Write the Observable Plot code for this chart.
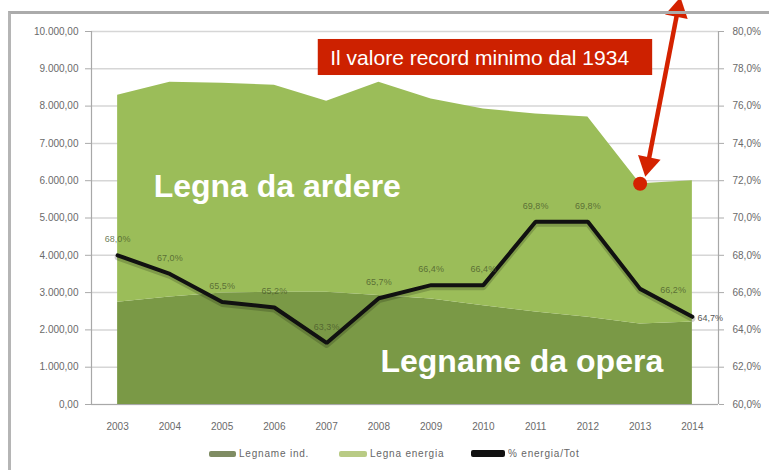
<!DOCTYPE html>
<html>
<head>
<meta charset="utf-8">
<script src="https://cdn.jsdelivr.net/npm/d3@7"></script>
<script src="https://cdn.jsdelivr.net/npm/@observablehq/plot@0.6"></script>
<style>
  html, body { margin: 0; padding: 0; background: #fff; }
  #wrap { position: relative; width: 769px; height: 470px; overflow: hidden; font-family: "Liberation Sans", Arial, sans-serif; }
  #frame { position: absolute; left: 8px; top: 11px; right: 0; bottom: 0; border-top: 3px solid #ababab; border-left: 3px solid #b5b5b5; pointer-events: none; }
  #legend { position: absolute; left: 0; top: 440px; width: 769px; height: 30px; font-size: 10px; color: #666; letter-spacing: 0.8px; }
  #legend .item { position: absolute; top: 8px; display: flex; align-items: center; white-space: nowrap; }
  #legend .sw { display: inline-block; height: 6px; border-radius: 2px; margin-right: 3px; }
</style>
</head>
<body>
<div id="wrap">
  <div id="chart"></div>
  <div id="legend"></div>
  <div id="frame"></div>
</div>
<script>
// ---- data ----
const years = [2003, 2004, 2005, 2006, 2007, 2008, 2009, 2010, 2011, 2012, 2013, 2014];
const legnameInd = [2740, 2880, 2990, 3010, 3010, 2920, 2830, 2650, 2480, 2340, 2160, 2210];
const legnaEnergia = [5550, 5760, 5620, 5550, 5120, 5720, 5360, 5270, 5310, 5370, 3760, 3790];
const quotaEnergia = [68.0, 67.0, 65.5, 65.2, 63.3, 65.7, 66.4, 66.4, 69.8, 69.8, 66.2, 64.7];
const leftTicks = [0, 1000, 2000, 3000, 4000, 5000, 6000, 7000, 8000, 9000, 10000];
const leftTickLabels = ["0,00", "1.000,00", "2.000,00", "3.000,00", "4.000,00", "5.000,00", "6.000,00", "7.000,00", "8.000,00", "9.000,00", "10.000,00"];
const rightTickLabels = ["60,0%", "62,0%", "64,0%", "66,0%", "68,0%", "70,0%", "72,0%", "74,0%", "76,0%", "78,0%", "80,0%"];
const seriesNames = ["Legname ind.", "Legna energia", "% energia/Tot"];
const seriesColors = ["#7a9946", "#9bbd59", "#111111"];
const legendSwatches = ["#7f8c63", "#b9cb85", "#111111"];
const areaLabels = ["Legname da opera", "Legna da ardere"];
const noteText = "Il valore record minimo dal 1934";
const noteYear = 2013;
// annotation geometry in data units (year, value)
const noteBox = {x1: 2006.84, x2: 2013.24, y1: 8820, y2: 9786};
const noteTextPos = {x: 2007.07, y: 9290};
const arrowLine = {x1: 2013.15, y1: 6453, x2: 2013.72, y2: 10571};
const arrowHeads = [{x: 2013.72, y: 10571, rot: 11.7}, {x: 2013.15, y: 6453, rot: 191.7}];
const areaLabelPos = [{x: 2008.03, y: 1150}, {x: 2003.69, y: 5850}];

// ---- derived tables ----
const stacked = [];
years.forEach((y, i) => {
  stacked.push({year: y, type: seriesNames[0], value: legnameInd[i]});
});
years.forEach((y, i) => {
  stacked.push({year: y, type: seriesNames[1], value: legnaEnergia[i]});
});
const pctToLeft = p => (p - 60) * 500;
const line = years.map((y, i) => ({year: y, pct: quotaEnergia[i], v: pctToLeft(quotaEnergia[i]),
  label: quotaEnergia[i].toFixed(1).replace(".", ",") + "%"}));
const lineAbove = line.filter(d => d.year <= 2012);
const line2013 = line.filter(d => d.year === 2013);
const line2014 = line.filter(d => d.year === 2014);
const recordPoint = years.map((y, i) => ({year: y, total: legnameInd[i] + legnaEnergia[i]})).filter(d => d.year === noteYear);

const FONT = '"Liberation Sans", Arial, sans-serif';
const labelFill = "#4a5a2c";

const chart = Plot.plot({
  width: 769,
  height: 440,
  marginLeft: 91,
  marginRight: 51,
  marginTop: 31,
  marginBottom: 36,
  style: {fontFamily: FONT, fontSize: "10px", background: "transparent", overflow: "visible"},
  x: {type: "linear", domain: [2002.5, 2014.5], axis: null},
  y: {domain: [0, 10000], axis: null},
  color: {domain: seriesNames.slice(0, 2), range: seriesColors.slice(0, 2)},
  marks: [
    Plot.ruleY(leftTicks, {stroke: "#d6d6d6", strokeWidth: 1.5}),
    Plot.areaY(stacked, Plot.stackY({x: "year", y: "value", z: "type", fill: "type"})),
    Plot.ruleX([2002.5, 2014.5], {y1: 0, y2: 10000, stroke: "#a8a8a8", strokeWidth: 1.2}),
    Plot.ruleY([0], {stroke: "#a8a8a8", strokeWidth: 1.2}),
    Plot.axisY({anchor: "left", ticks: leftTicks, tickFormat: (d, i) => leftTickLabels[leftTicks.indexOf(d)],
      tickSize: 6, tickPadding: 7, stroke: "#aaa", fill: "#6a6a6a", letterSpacing: 0.6, label: null}),
    Plot.axisY({anchor: "right", ticks: leftTicks, tickFormat: d => rightTickLabels[leftTicks.indexOf(d)],
      tickSize: 5, tickPadding: 9, stroke: "#aaa", fill: "#6a6a6a", label: null}),
    Plot.axisX({anchor: "bottom", ticks: years, tickFormat: d => String(d), tickSize: 0, tickPadding: 18,
      fill: "#6a6a6a", letterSpacing: 1.2, label: null}),
    Plot.line(line, {x: "year", y: "v", stroke: "#000", strokeOpacity: 0.18, strokeWidth: 6, dy: 2}),
    Plot.line(line, {x: "year", y: "v", stroke: seriesColors[2], strokeWidth: 4, strokeLinejoin: "miter"}),
    Plot.text(lineAbove, {x: "year", y: "v", text: "label", dy: -16, fill: labelFill, fillOpacity: 0.8, fontSize: 9}),
    Plot.text(line2013, {x: "year", y: "v", text: "label", dx: 33, dy: 1, fill: labelFill, fillOpacity: 0.8, fontSize: 9}),
    Plot.text(line2014, {x: "year", y: "v", text: "label", dx: 5, dy: 1, textAnchor: "start", fill: "#555", fontSize: 9}),
    Plot.text([areaLabelPos[0]], {x: "x", y: "y", text: () => areaLabels[0], textAnchor: "start",
      fill: "#fff", fontSize: 32, fontWeight: "bold", fontFamily: FONT}),
    Plot.text([areaLabelPos[1]], {x: "x", y: "y", text: () => areaLabels[1], textAnchor: "start",
      fill: "#fff", fontSize: 32, fontWeight: "bold", fontFamily: FONT}),
    Plot.rect([noteBox], {x1: "x1", x2: "x2", y1: "y1", y2: "y2", fill: "#cd2100"}),
    Plot.text([noteTextPos], {x: "x", y: "y", text: () => noteText, textAnchor: "start",
      fill: "#fff", fontSize: 21, fontFamily: FONT}),
    Plot.link([arrowLine], {x1: "x1", y1: "y1", x2: "x2", y2: "y2", stroke: "#d42200", strokeWidth: 4.5}),
    Plot.dot(arrowHeads, {x: "x", y: "y", rotate: "rot", symbol: "triangle2", r: 11, fill: "#d42200", stroke: "none"}),
    Plot.dot(recordPoint, {x: "year", y: "total", r: 7, fill: "#d42200", stroke: "none"})
  ]
});
document.getElementById("chart").appendChild(chart);

// legend
const legend = document.getElementById("legend");
const legendX = [209, 339, 471];
const swW = [27, 28, 34];
seriesNames.forEach((name, i) => {
  const item = document.createElement("div");
  item.className = "item";
  item.style.left = legendX[i] + "px";
  const sw = document.createElement("span");
  sw.className = "sw";
  sw.style.width = swW[i] + "px";
  sw.style.background = legendSwatches[i];
  if (i === 2) sw.style.height = "7px";
  const t = document.createElement("span");
  t.textContent = name;
  item.appendChild(sw);
  item.appendChild(t);
  legend.appendChild(item);
});
</script>
</body>
</html>
